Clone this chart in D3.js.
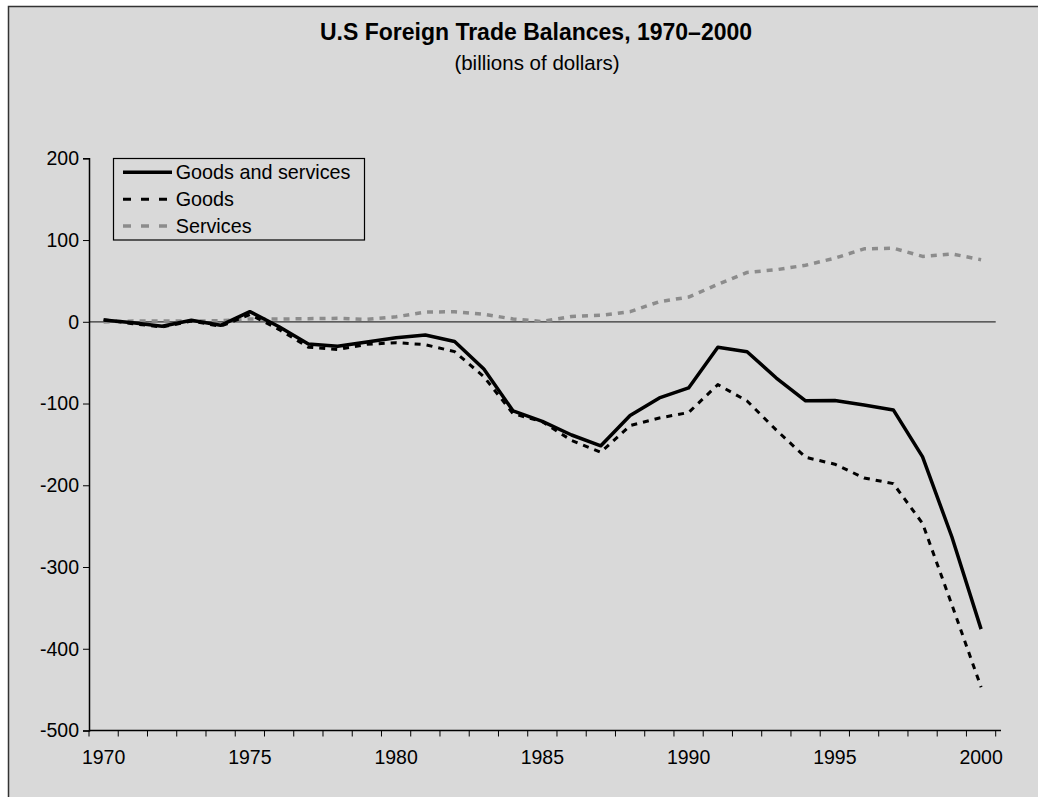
<!DOCTYPE html>
<html>
<head>
<meta charset="utf-8">
<script src="https://cdn.jsdelivr.net/npm/d3@7"></script>
<style>
  html, body { margin: 0; padding: 0; background: #fff; }
  text { font-family: "Liberation Sans", Arial, sans-serif; fill: #000; }
</style>
</head>
<body>
<div id="chart"></div>
<script>
const width = 1038, height = 797;

// data, billions of dollars
const years = d3.range(1970, 2001);
const goodsServices = [2.3, -1.3, -5.4, 1.9, -4.3, 12.4, -6.1, -27.2, -29.8, -24.6, -19.4, -16.2, -24.2, -57.8, -109.1, -121.9, -138.5, -151.7, -114.6, -93.1, -80.9, -31.1, -36.6, -68.8, -96.7, -96.4, -101.8, -107.8, -165.2, -263, -376];
const goods = [2.6, -2.3, -6.4, 0.9, -5.5, 8.9, -9.5, -31.1, -33.9, -27.6, -25.5, -28.0, -36.5, -67.1, -112.5, -122.2, -145.1, -159.6, -127.0, -117.7, -111.0, -76.9, -96.9, -132.5, -165.8, -174.2, -191.0, -198, -246.7, -346, -447];
const services = [-0.3, 1.0, 1.0, 1.0, 1.2, 3.5, 3.4, 3.8, 4.2, 3.0, 6.1, 11.9, 12.3, 9.3, 3.4, 0.3, 6.5, 7.9, 12.4, 24.6, 30.2, 45.8, 60.4, 63.7, 69.2, 77.8, 89.2, 90, 80, 83, 76];
const yTicks = [200, 100, 0, -100, -200, -300, -400, -500];
const xLabels = [1970, 1975, 1980, 1985, 1990, 1995, 2000];

const series = [
  { name: "Goods and services", values: goodsServices, color: "#000", width: 3.5, dash: null },
  { name: "Goods", values: goods, color: "#000", width: 3, dash: "6,6" },
  { name: "Services", values: services, color: "#8c8c8c", width: 3.5, dash: "6,6" }
];

const svg = d3.select("#chart")
  .append("svg")
  .attr("width", width)
  .attr("height", height);

// chart area background + frame
svg.append("rect")
  .attr("x", 8.5).attr("y", 6.5)
  .attr("width", width + 10).attr("height", height + 10)
  .attr("fill", "#d9d9d9")
  .attr("stroke", "#333")
  .attr("stroke-width", 1.5);

// scales
const x = d3.scaleBand().domain(years).range([89, 995.7]);
const y = d3.scaleLinear().domain([-500, 200]).range([730.5, 158.3]);
const cx = yr => x(yr) + x.bandwidth() / 2;

// title
svg.append("text")
  .attr("x", 536).attr("y", 40)
  .attr("text-anchor", "middle")
  .style("font-size", "23px")
  .style("font-weight", "bold")
  .text("U.S Foreign Trade Balances, 1970\u20132000");

svg.append("text")
  .attr("x", 537).attr("y", 70)
  .attr("text-anchor", "middle")
  .style("font-size", "20.5px")
  .text("(billions of dollars)");

// zero line
svg.append("line")
  .attr("x1", 89).attr("x2", 995.7)
  .attr("y1", y(0)).attr("y2", y(0))
  .attr("stroke", "#333")
  .attr("stroke-width", 1.2);

// y axis
const yAxis = svg.append("g")
  .attr("transform", "translate(89,0)")
  .call(d3.axisLeft(y).tickValues(yTicks).tickSize(6).tickPadding(4).tickFormat(d => String(d)));
yAxis.select(".domain").attr("stroke", "#000").attr("stroke-width", 1.5);
yAxis.selectAll(".tick line").attr("stroke", "#000");
yAxis.selectAll(".tick text")
  .style("font-size", "19.5px")
  .attr("fill", "#000");

// x axis: ticks between categories, labels every 5 years
const xAxis = svg.append("g").attr("transform", `translate(0,${y(-500)})`);
xAxis.append("line")
  .attr("x1", 89).attr("x2", 1001)
  .attr("stroke", "#000").attr("stroke-width", 1.5);
const bounds = years.map(yr => x(yr)).concat([x(2000) + x.bandwidth()]);
xAxis.selectAll("line.tk")
  .data(bounds)
  .enter()
  .append("line")
  .attr("class", "tk")
  .attr("x1", d => d).attr("x2", d => d)
  .attr("y1", 0).attr("y2", 6)
  .attr("stroke", "#000");
xAxis.selectAll("text")
  .data(xLabels)
  .enter()
  .append("text")
  .attr("x", d => cx(d))
  .attr("y", 33)
  .attr("text-anchor", "middle")
  .style("font-size", "19.5px")
  .text(d => d);

// lines
const line = d3.line()
  .x((d, i) => cx(years[i]))
  .y(d => y(d));

svg.selectAll("path.series")
  .data(series.slice().reverse())
  .enter()
  .append("path")
  .attr("class", "series")
  .attr("d", d => line(d.values))
  .attr("fill", "none")
  .attr("stroke", d => d.color)
  .attr("stroke-width", d => d.width)
  .attr("stroke-dasharray", d => d.dash)
  .attr("stroke-linejoin", "round");

// legend
const legend = svg.append("g");
legend.append("rect")
  .attr("x", 113.5).attr("y", 158.5)
  .attr("width", 251).attr("height", 81.5)
  .attr("fill", "#d9d9d9")
  .attr("stroke", "#000")
  .attr("stroke-width", 1.2);

const rows = legend.selectAll("g.row")
  .data(series)
  .enter()
  .append("g")
  .attr("class", "row")
  .attr("transform", (d, i) => `translate(0,${172.3 + i * 26.9})`);

rows.append("line")
  .attr("x1", 123).attr("x2", 172)
  .attr("y1", 0).attr("y2", 0)
  .attr("stroke", d => d.color)
  .attr("stroke-width", d => d.width)
  .attr("stroke-dasharray", d => d.dash ? "8,10" : null);

rows.append("text")
  .attr("x", 175.7)
  .attr("y", 7)
  .style("font-size", "19.8px")
  .text(d => d.name);
</script>
</body>
</html>
